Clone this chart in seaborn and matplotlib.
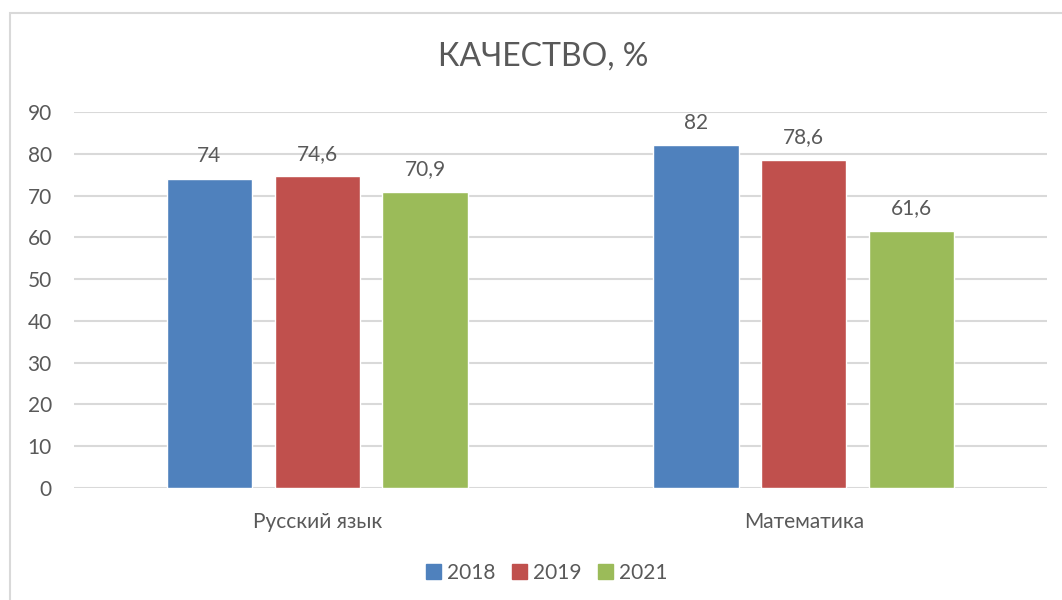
import matplotlib.pyplot as plt
import matplotlib.patches as mpatches
import seaborn as sns
import pandas as pd

### chart data
SUBJECTS = ["Русский язык", "Математика"]
YEARS = ["2018", "2019", "2021"]
VAL_2018 = [74, 82]
VAL_2019 = [74.6, 78.6]
VAL_2021 = [70.9, 61.6]
COLORS = ["#4F81BD", "#C0504D", "#9BBB59"]
TEXT = "#595959"

rows = []
for year, vals in zip(YEARS, [VAL_2018, VAL_2019, VAL_2021]):
	for subj, v in zip(SUBJECTS, vals):
		rows.append({"subject": subj, "year": year, "value": v})
df = pd.DataFrame(rows)

sns.set_theme(style="white")
plt.rcParams['font.family'] = ['Lato', 'DejaVu Sans']

fig = plt.figure(figsize=(10.62, 6), dpi=100)
ax = fig.add_axes([74 / 1062, 1 - 488 / 600, (1047 - 74) / 1062, (488 - 112) / 600])

sns.barplot(data=df, x="subject", y="value", hue="year", order=SUBJECTS,
            hue_order=YEARS, palette=COLORS, width=0.665, gap=0.21,
            saturation=1, ax=ax, zorder=3)

### value labels with comma decimal
for cont in ax.containers:
	labels = [("%g" % b.get_height()).replace(".", ",") for b in cont]
	ax.bar_label(cont, labels=labels, padding=9, fontsize=15, color=TEXT)

ax.set_ylim(0, 90)
ax.set_yticks(range(0, 91, 10))
ax.yaxis.grid(True, color="#d9d9d9", lw=1.5, zorder=0)
ax.set_axisbelow(True)
for s in ax.spines.values():
	s.set_visible(False)
ax.set_xlabel("")
ax.set_ylabel("")
ax.tick_params(axis="both", length=0, labelsize=15, colors=TEXT)
ax.tick_params(axis="x", pad=17)
ax.tick_params(axis="y", pad=16)

fig.text(543 / 1062, 1 - 57 / 600, "КАЧЕСТВО, %", ha="center", va="center",
         fontsize=23, color=TEXT)

handles = [mpatches.Patch(color=c, label=y) for c, y in zip(COLORS, YEARS)]
ax.legend_.remove()
fig.legend(handles=handles, loc="center", bbox_to_anchor=(547 / 1062, 1 - 573 / 600),
           ncol=3, frameon=False, fontsize=15, handlelength=0.7, handleheight=0.7,
           handletextpad=0.3, columnspacing=0.8, labelcolor=TEXT)

### chart border
fig.add_artist(mpatches.Rectangle((10 / 1062, -0.1), 2, 1 - 13 / 600 + 0.1,
               transform=fig.transFigure, fill=False, edgecolor="#d9d9d9", lw=1.5))

fig.savefig("out.png", dpi=100)
